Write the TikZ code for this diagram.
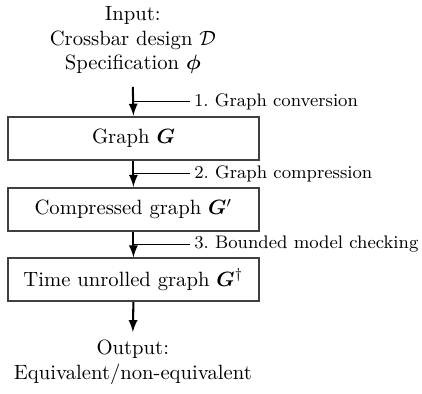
\documentclass[tikz,border=0pt]{standalone}
\usepackage{amsmath,amssymb,bm}
\usetikzlibrary{positioning}

\tikzset{
    stage/.style={draw=black!75,line width=0.9pt,minimum width=4.27cm,minimum height=0.73cm},
    flow/.style={line width=1pt,->,>=latex},
    steplabel/.style={font=\fontsize{8.8}{10}\selectfont,inner sep=2pt,anchor=west}
}

\begin{document}
\frenchspacing
\begin{tikzpicture}
        \useasboundingbox (0,0) rectangle (7.18,-6.70);
        \node[align=center] (in) at (2.26,-0.68) {Input:\\Crossbar design $\mathcal{D}$\\Specification $\bm{\phi}$};
        \coordinate (start) at (2.26,-1.48);
        \node[stage] (g) at (2.27,-2.35) {Graph $\bm{G}$};
        \node[stage] (gc) at (2.27,-3.56) {Compressed graph $\bm{G}'$};
        \node[stage] (gt) at (2.27,-4.76) {Time unrolled graph $\bm{G}^{\dagger}$};
        \coordinate (stop) at (2.26,-5.65);
        \node[align=center] (out) at (2.26,-6.17) {Output:\\Equivalent/non-equivalent};
        % main flow
        \draw [flow] (start) -- (g.north) coordinate[midway] (s1);
        \draw [flow] (g.south) -- (gc.north) coordinate[midway] (s2);
        \draw [flow] (gc.south) -- (gt.north) coordinate[midway] (s3);
        \draw [flow] (gt.south) -- (stop);
        % steps
        \node[steplabel, right=0.96cm of s1] (l1) {1. Graph conversion};
        \node[steplabel, right=0.96cm of s2] (l2) {2. Graph compression};
        \node[steplabel, right=0.96cm of s3] (l3) {3. Bounded model checking};
        \draw (s1) -- (l1.west);
        \draw (s2) -- (l2.west);
        \draw (s3) -- (l3.west);
    \end{tikzpicture}
\end{document}
